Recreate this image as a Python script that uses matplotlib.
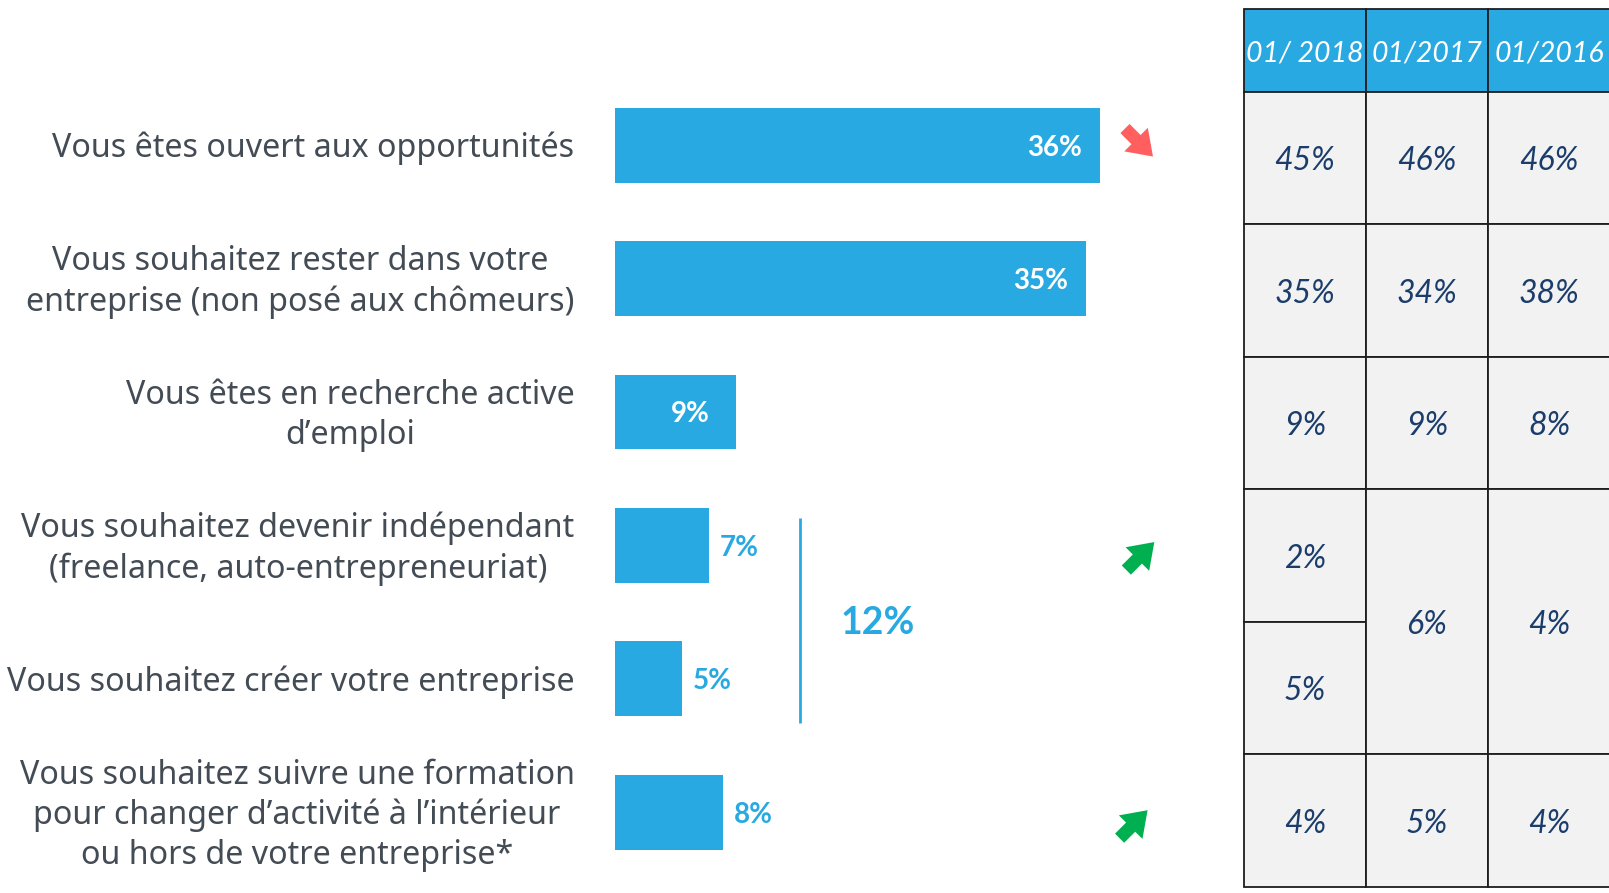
import matplotlib
matplotlib.use("Agg")
import matplotlib.pyplot as plt
from matplotlib.patches import Rectangle
from matplotlib.transforms import offset_copy

# ---------------- data ----------------
categories = [
    "Vous êtes ouvert aux opportunités",
    "Vous souhaitez rester dans votre\nentreprise (non posé aux chômeurs)",
    "Vous êtes en recherche active\nd’emploi",
    "Vous souhaitez devenir indépendant\n(freelance, auto-entrepreneuriat)",
    "Vous souhaitez créer votre entreprise",
    "Vous souhaitez suivre une formation\npour changer d’activité à l’intérieur\nou hors de votre entreprise*",
]
values = [36, 35, 9, 7, 5, 8]
combined_label = "12%"          # indépendant + créer
trends = ["down", None, None, "up", None, "up"]

table_headers = ["01/ 2018", "01/2017", "01/2016"]
# each column: list of (first_row, last_row, text)
col_2018 = [(0, 0, "45%"), (1, 1, "35%"), (2, 2, "9%"), (3, 3, "2%"), (4, 4, "5%"), (5, 5, "4%")]
col_2017 = [(0, 0, "46%"), (1, 1, "34%"), (2, 2, "9%"), (3, 4, "6%"), (5, 5, "5%")]
col_2016 = [(0, 0, "46%"), (1, 1, "38%"), (2, 2, "8%"), (3, 4, "4%"), (5, 5, "4%")]
table_cols = [col_2018, col_2017, col_2016]

# ---------------- style ----------------
BLUE = "#29a9e1"
GREY_TXT = "#434b54"
NAVY = "#1b3d6b"
RED = "#ff5f5f"
GREEN = "#00b050"
CELL = "#f2f2f2"

W, H = 1609, 893
fig = plt.figure(figsize=(W / 100, H / 100), dpi=100)
fig.patch.set_facecolor("white")

# main axes spanning the whole figure; x unit = 1 %, row pitch = 1
px_per_pct = 13.47
x0_px = 615
row0_px = 145.2
row_px = 133.4
ax = fig.add_axes([0, 0, 1, 1])
ax.set_xlim(-x0_px / px_per_pct, (W - x0_px) / px_per_pct)
ax.set_ylim((H - row0_px) / row_px, -row0_px / row_px)
ax.axis("off")

ypos = list(range(len(categories)))
ax.barh(ypos, values, height=0.562, color=BLUE, left=0)

for y, v, lab in zip(ypos, values, categories):
    ax.text(-3.0, y + 0.025, lab, ha="right", va="center", multialignment="center",
            fontsize=23.2, color=GREY_TXT, family="Noto Sans", linespacing=1.27)
    if v >= 9:
        ax.text(v - 3.4, y, f"{v}%", ha="center", va="center_baseline", fontsize=20,
                color="white", fontweight="bold", family="Lato")
    else:
        ax.text(v + 0.8, y, f"{v}%", ha="left", va="center_baseline", fontsize=20,
                color=BLUE, fontweight="bold", family="Lato")

# bracket for combined value
ax.vlines(13.73, 2.795, 4.33, color=BLUE, lw=2.0)
ax.text(19.5, 3.56, combined_label, ha="center", va="center_baseline", fontsize=27,
        color=BLUE, fontweight="bold", family="Lato")

# trend arrows
arrow_x = {0: 38.9, 3: 39.0, 5: 38.5}
arrow_dy = {0: -0.02, 3: 0.08, 5: 0.09}
for y, t in zip(ypos, trends):
    if t is None:
        continue
    xc = arrow_x[y]
    yc = y + arrow_dy[y]
    d = 14
    if t == "down":
        tail = offset_copy(ax.transData, fig=fig, x=-d, y=d, units="dots")
        tip = offset_copy(ax.transData, fig=fig, x=d, y=-d, units="dots")
        col = RED
    else:
        tail = offset_copy(ax.transData, fig=fig, x=-d, y=-d, units="dots")
        tip = offset_copy(ax.transData, fig=fig, x=d, y=d, units="dots")
        col = GREEN
    ax.annotate("", xy=(xc, yc), xycoords=tip, xytext=(xc, yc), textcoords=tail,
                arrowprops=dict(arrowstyle="simple,head_length=1.15,head_width=1.6,tail_width=0.62",
                                color=col, mutation_scale=15, shrinkA=0, shrinkB=0, lw=0))

# ---------------- table ----------------
col_px = 122
tab_left = 1244
tab_top = 9.3
tab_bottom = 887
tab_row_px = 132.6
hdr_rows = (92 - tab_top) / tab_row_px
tax = fig.add_axes([tab_left / W, 1 - tab_bottom / H, (W - tab_left) / W, (tab_bottom - tab_top) / H])
tax.set_xlim(0, (W - tab_left) / col_px)
tax.set_ylim(6, -hdr_rows)
tax.axis("off")

edge = "#1e1e1e"
for ci, (hdr, col) in enumerate(zip(table_headers, table_cols)):
    tax.add_patch(Rectangle((ci, -hdr_rows), 1, hdr_rows, facecolor=BLUE,
                            edgecolor=edge, lw=1.3, clip_on=False))
    tax.text(ci + 0.5, -hdr_rows / 2, hdr, ha="center", va="center_baseline", fontsize=20.5,
             color="white", style="italic", family="Lato")
    for r0, r1, txt in col:
        tax.add_patch(Rectangle((ci, r0), 1, r1 - r0 + 1, facecolor=CELL,
                                edgecolor=edge, lw=1.3, clip_on=False))
        tax.text(ci + 0.5, (r0 + r1 + 1) / 2, txt, ha="center", va="center_baseline",
                 fontsize=23, color=NAVY, style="italic", family="Lato")

fig.savefig("out.png", dpi=100, facecolor="white")
